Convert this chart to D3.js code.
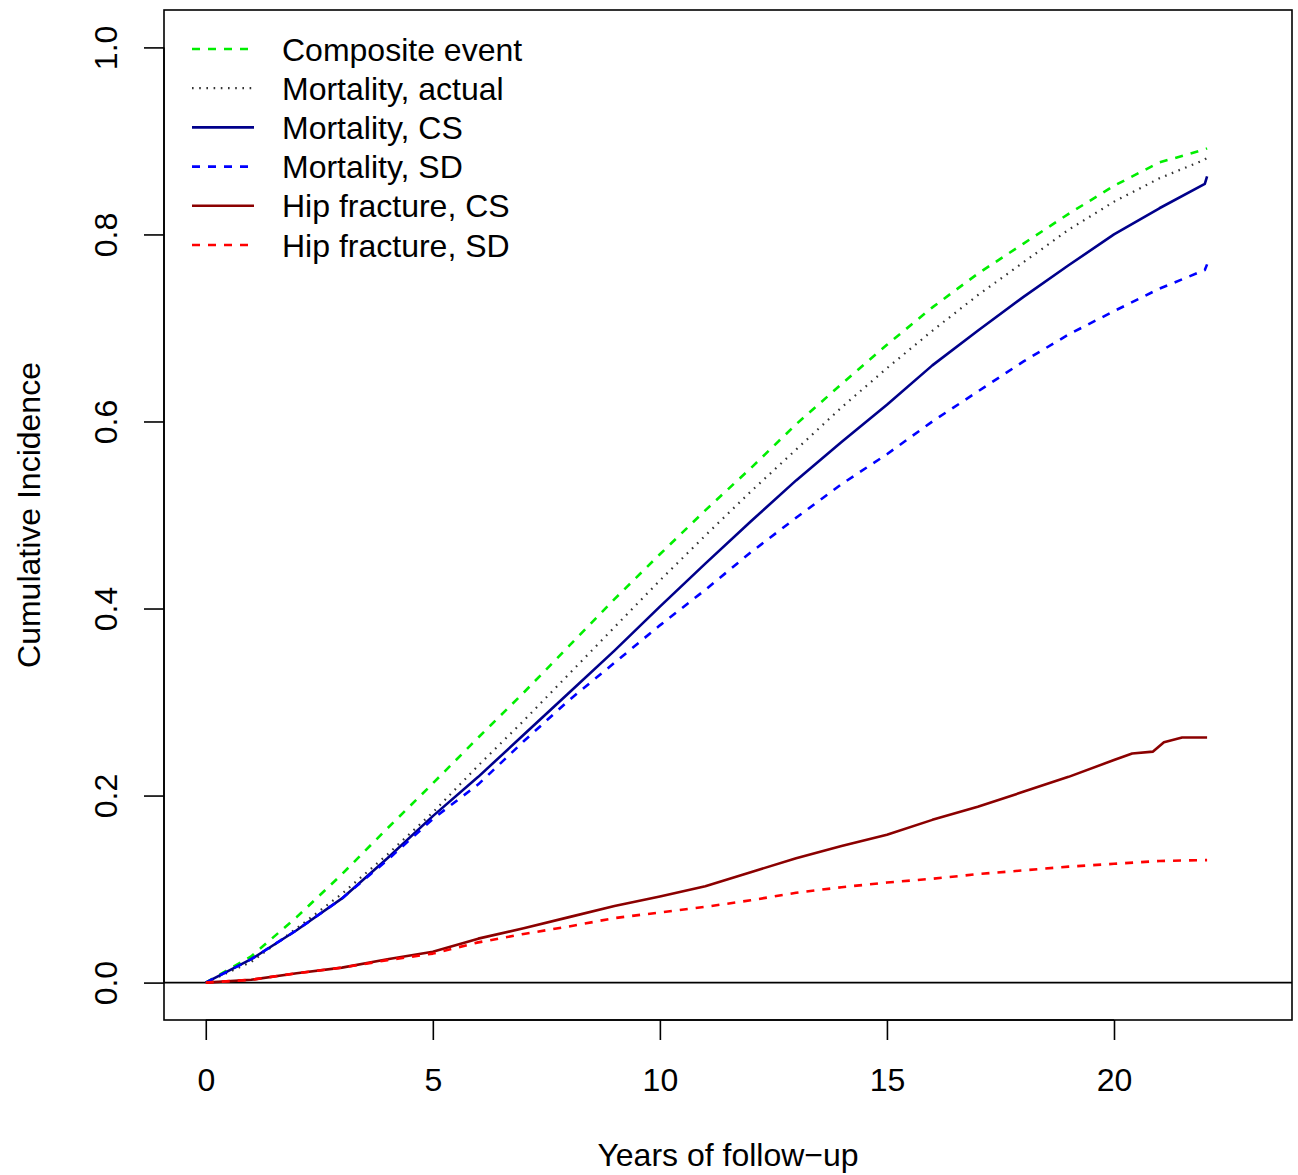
<!DOCTYPE html>
<html>
<head>
<meta charset="utf-8">
<script src="https://cdn.jsdelivr.net/npm/d3@7"></script>
<style>
  body { margin: 0; background: #fff; }
  svg text { font-family: "Liberation Sans", Arial, Helvetica, sans-serif; fill: #000; }
</style>
</head>
<body>
<div id="chart"></div>
<script>
// Cumulative incidence curves
const years = [0, 1, 2, 3, 4, 5, 6, 7, 8, 9, 10, 11, 12, 13, 14, 15, 16, 17, 18, 19, 20, 21, 22, 22.05];

const composite   = [0, 0.028, 0.070, 0.116, 0.165, 0.213, 0.262, 0.310, 0.360, 0.410, 0.458, 0.505, 0.550, 0.597, 0.640, 0.682, 0.722, 0.758, 0.790, 0.822, 0.852, 0.877, 0.891, 0.892];
const mortActual  = [0, 0.022, 0.058, 0.095, 0.137, 0.182, 0.232, 0.280, 0.330, 0.380, 0.430, 0.478, 0.525, 0.570, 0.615, 0.657, 0.697, 0.735, 0.770, 0.805, 0.835, 0.860, 0.880, 0.882];
const mortCS      = [0, 0.025, 0.056, 0.090, 0.133, 0.178, 0.220, 0.265, 0.310, 0.355, 0.402, 0.448, 0.493, 0.537, 0.578, 0.618, 0.660, 0.697, 0.733, 0.767, 0.800, 0.828, 0.854, 0.862];
const mortSD      = [0, 0.025, 0.056, 0.090, 0.131, 0.175, 0.212, 0.258, 0.302, 0.342, 0.382, 0.420, 0.460, 0.497, 0.533, 0.565, 0.600, 0.632, 0.664, 0.693, 0.718, 0.742, 0.762, 0.768];
const hipSD       = [0, 0.003, 0.010, 0.016, 0.024, 0.031, 0.043, 0.052, 0.060, 0.069, 0.075, 0.081, 0.088, 0.096, 0.102, 0.107, 0.111, 0.116, 0.120, 0.124, 0.127, 0.130, 0.131, 0.131];

// hip fracture CS has a visible plateau and jump near the end, so its own time grid
const hipCSYears  = [0, 1, 2, 3, 4, 5, 6, 7, 8, 9, 10, 11, 12, 13, 14, 15, 16, 17, 18, 19, 20, 20.4, 20.86, 21.1, 21.5, 22.05];
const hipCS       = [0, 0.003, 0.010, 0.016, 0.025, 0.033, 0.047, 0.058, 0.070, 0.082, 0.092, 0.103, 0.118, 0.133, 0.146, 0.158, 0.174, 0.188, 0.204, 0.220, 0.238, 0.245, 0.247, 0.257, 0.262, 0.262];

const xTicks = [0, 5, 10, 15, 20];
const yTicks = [0, 0.2, 0.4, 0.6, 0.8, 1.0];

const series = [
  { label: "Composite event",   x: years,      y: composite,  color: "#00ee00", dash: "8,8",     width: 2.6 },
  { label: "Mortality, actual", x: years,      y: mortActual, color: "#333333", dash: "1.6,5.6", width: 2.2 },
  { label: "Mortality, CS",     x: years,      y: mortCS,     color: "#00008b", dash: null,      width: 2.6 },
  { label: "Mortality, SD",     x: years,      y: mortSD,     color: "#0000ff", dash: "8,8",     width: 2.6 },
  { label: "Hip fracture, CS",  x: hipCSYears, y: hipCS,      color: "#8b0000", dash: null,      width: 2.6 },
  { label: "Hip fracture, SD",  x: years,      y: hipSD,      color: "#ff0000", dash: "8,8",     width: 2.6 }
];

const width = 1298, height = 1175;
const box = { left: 164, right: 1292, top: 10, bottom: 1020 };

const svg = d3.select("#chart").append("svg")
  .attr("width", width).attr("height", height);

// R style: xlim 0..23, ylim 0..1 with 4% extension
const x = d3.scaleLinear().domain([-0.92, 23.92]).range([box.left, box.right]);
const y = d3.scaleLinear().domain([-0.04, 1.04]).range([box.bottom, box.top]);

// horizontal reference line at 0
svg.append("line")
  .attr("x1", box.left).attr("x2", box.right)
  .attr("y1", y(0)).attr("y2", y(0))
  .attr("stroke", "#000").attr("stroke-width", 1.6);

// curves
const line = d3.line();
series.forEach(s => {
  const pts = s.x.map((t, i) => [x(t), y(s.y[i])]);
  svg.append("path")
    .attr("d", line(pts))
    .attr("fill", "none")
    .attr("stroke", s.color)
    .attr("stroke-width", s.width)
    .attr("stroke-dasharray", s.dash)
    .attr("stroke-linejoin", "round");
});

// plot frame
svg.append("rect")
  .attr("x", box.left).attr("y", box.top)
  .attr("width", box.right - box.left).attr("height", box.bottom - box.top)
  .attr("fill", "none").attr("stroke", "#000").attr("stroke-width", 1.6);

// x axis
const xAxis = svg.append("g")
  .attr("transform", `translate(0,${box.bottom})`)
  .call(d3.axisBottom(x).tickValues(xTicks).tickSize(20).tickPadding(28).tickSizeOuter(0));
xAxis.select(".domain")
  .attr("d", `M${x(xTicks[0])},0H${x(xTicks[xTicks.length - 1])}`)
  .attr("stroke-width", 1.6);
xAxis.selectAll(".tick line").attr("stroke-width", 1.6);
xAxis.selectAll(".tick text")
  .attr("font-size", 32)
  .attr("font-family", "'Liberation Sans', Arial, sans-serif");

// y axis
const yAxis = svg.append("g")
  .attr("transform", `translate(${box.left},0)`)
  .call(d3.axisLeft(y).tickValues(yTicks).tickSize(20).tickFormat(d3.format(".1f")).tickSizeOuter(0));
yAxis.select(".domain")
  .attr("d", `M0,${y(0)}V${y(1)}`)
  .attr("stroke-width", 1.6);
yAxis.selectAll(".tick line").attr("stroke-width", 1.6);
yAxis.selectAll(".tick text")
  .attr("font-size", 32)
  .attr("font-family", "'Liberation Sans', Arial, sans-serif")
  .attr("text-anchor", "middle")
  .attr("x", null).attr("dy", null)
  .attr("transform", "translate(-47,0) rotate(-90)");

// axis titles
svg.append("text")
  .attr("x", (box.left + box.right) / 2).attr("y", 1166)
  .attr("text-anchor", "middle").attr("font-size", 32)
  .text("Years of follow\u2212up");

svg.append("text")
  .attr("transform", `translate(40,${(box.top + box.bottom) / 2}) rotate(-90)`)
  .attr("text-anchor", "middle").attr("font-size", 32)
  .text("Cumulative Incidence");

// legend
const legend = svg.append("g");
series.forEach((s, i) => {
  const ly = 49 + i * 39.2;
  legend.append("line")
    .attr("x1", 192).attr("x2", 254)
    .attr("y1", ly).attr("y2", ly)
    .attr("stroke", s.color)
    .attr("stroke-width", s.width)
    .attr("stroke-dasharray", s.dash);
  legend.append("text")
    .attr("x", 282).attr("y", ly + 11.5)
    .attr("font-size", 32)
    .text(s.label);
});
</script>
</body>
</html>
